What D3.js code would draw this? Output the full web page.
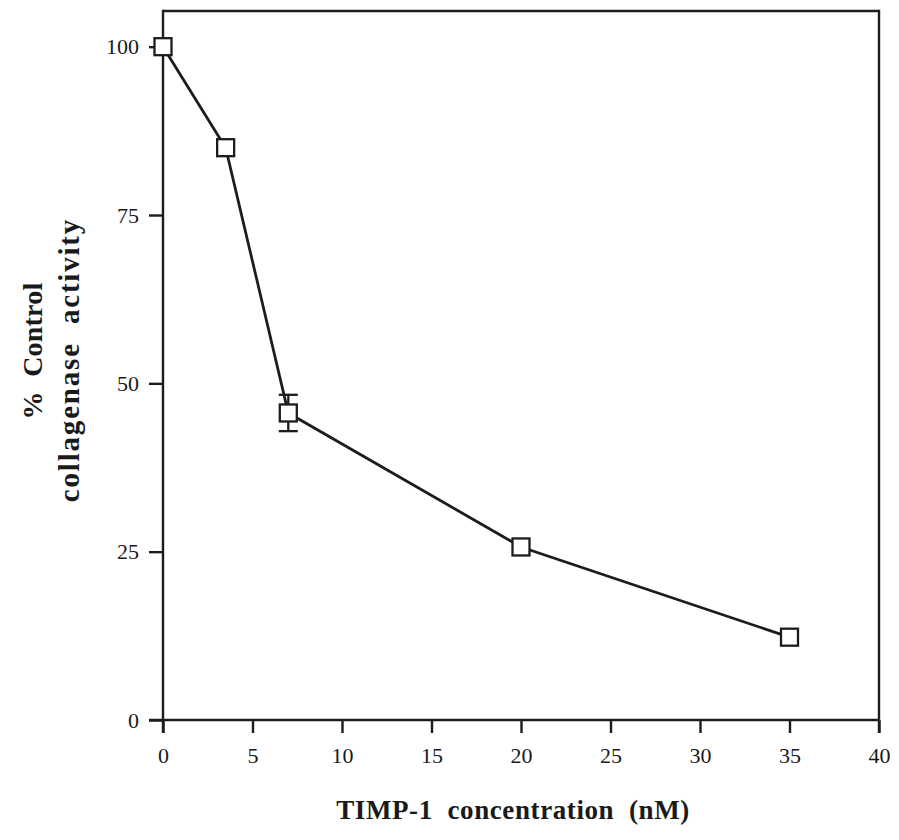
<!DOCTYPE html>
<html>
<head>
<meta charset="utf-8">
<script src="https://cdn.jsdelivr.net/npm/d3@7"></script>
<style>
  html, body { margin: 0; padding: 0; background: #fff; }
  svg { display: block; }
  .tick text { font-family: "Liberation Serif", "Times New Roman", serif; font-size: 22px; fill: #1a1a1a; }
  .title { font-family: "Liberation Serif", "Times New Roman", serif; font-weight: bold; font-size: 27px; fill: #1a1a1a; white-space: pre; }
</style>
</head>
<body>
<script>
// TIMP-1 inhibition of collagenase activity
const concentrations = [0, 3.5, 7, 20, 35];          // nM
const activity       = [100, 85, 45.6, 25.7, 12.3];  // % of control
const activityErr    = [0, 0, 2.7, 0, 0];            // error bar half-width
const xTicks = [0, 5, 10, 15, 20, 25, 30, 35, 40];
const yTicks = [0, 25, 50, 75, 100];
const xTitle = "TIMP-1  concentration  (nM)";
const yTitleLines = ["%  Control", "collagenase  activity"];

const W = 899, H = 840;
const ink = "#1c1c1c";

const svg = d3.select("body").append("svg")
  .attr("width", W).attr("height", H);

const x = d3.scaleLinear().domain([0, 40]).range([163, 879]);
const y = d3.scaleLinear().domain([0, 105.3]).range([720, 11]);

const tickLen = 13;

// axes
const xAxis = svg.append("g")
  .attr("transform", `translate(0,${y(0)})`)
  .call(d3.axisBottom(x).tickValues(xTicks).tickSize(tickLen).tickPadding(14).tickFormat(d3.format("d")));
const yAxis = svg.append("g")
  .attr("transform", `translate(${x(0)},0)`)
  .call(d3.axisLeft(y).tickValues(yTicks).tickSize(tickLen + 1).tickPadding(10).tickFormat(d3.format("d")));

[xAxis, yAxis].forEach(g => {
  g.select(".domain").remove();
  g.selectAll(".tick line").attr("stroke", ink).attr("stroke-width", 2.4);
  g.selectAll(".tick text").attr("fill", ink);
});

// frame: left axis, bottom axis, top and right borders
const x0 = x(0), x1 = x(40), yTop = y.range()[1], yBot = y(0);
const frame = svg.append("g").attr("stroke", ink).attr("stroke-width", 2.4).attr("fill", "none");
frame.append("line").attr("x1", x0).attr("x2", x0).attr("y1", yTop - 1.2).attr("y2", yBot + tickLen);
frame.append("line").attr("x1", x1).attr("x2", x1).attr("y1", yTop - 1.2).attr("y2", yBot + tickLen);
frame.append("line").attr("x1", x0).attr("x2", x1).attr("y1", yTop).attr("y2", yTop);
frame.append("line").attr("x1", x0 - tickLen - 1).attr("x2", x1).attr("y1", yBot).attr("y2", yBot);

const pts = concentrations.map((c, i) => ({ c, v: activity[i], e: activityErr[i] }));

// connecting line
svg.append("path")
  .datum(pts)
  .attr("fill", "none")
  .attr("stroke", ink)
  .attr("stroke-width", 2.8)
  .attr("d", d3.line().x(d => x(d.c)).y(d => y(d.v)));

// error bars
const capW = 19;
const eb = svg.append("g").attr("stroke", ink).attr("stroke-width", 2.3);
pts.filter(d => d.e > 0).forEach(d => {
  eb.append("line").attr("x1", x(d.c)).attr("x2", x(d.c)).attr("y1", y(d.v + d.e)).attr("y2", y(d.v - d.e));
  eb.append("line").attr("x1", x(d.c) - capW / 2).attr("x2", x(d.c) + capW / 2).attr("y1", y(d.v + d.e)).attr("y2", y(d.v + d.e));
  eb.append("line").attr("x1", x(d.c) - capW / 2).attr("x2", x(d.c) + capW / 2).attr("y1", y(d.v - d.e)).attr("y2", y(d.v - d.e));
});

// open square markers
const ms = 17;
svg.append("g").selectAll("rect")
  .data(pts)
  .join("rect")
  .attr("x", d => x(d.c) - ms / 2)
  .attr("y", d => y(d.v) - ms / 2)
  .attr("width", ms).attr("height", ms)
  .attr("fill", "#fff")
  .attr("stroke", ink)
  .attr("stroke-width", 2.3);

// axis titles
svg.append("text")
  .attr("class", "title")
  .attr("x", 513).attr("y", 819)
  .attr("text-anchor", "middle")
  .style("letter-spacing", "0.6px")
  .text(xTitle);

// two-line rotated y title
const yLineSpec = [
  { baseX: 42, centerY: 351, size: 28, spacing: 0.2 },
  { baseX: 79, centerY: 360, size: 29, spacing: 1.8 }
];
yTitleLines.forEach((t, i) => {
  const s = yLineSpec[i];
  svg.append("text")
    .attr("class", "title")
    .attr("transform", `translate(${s.baseX},${s.centerY}) rotate(-90)`)
    .attr("text-anchor", "middle")
    .style("font-size", s.size + "px")
    .style("letter-spacing", s.spacing + "px")
    .text(t);
});
</script>
</body>
</html>
